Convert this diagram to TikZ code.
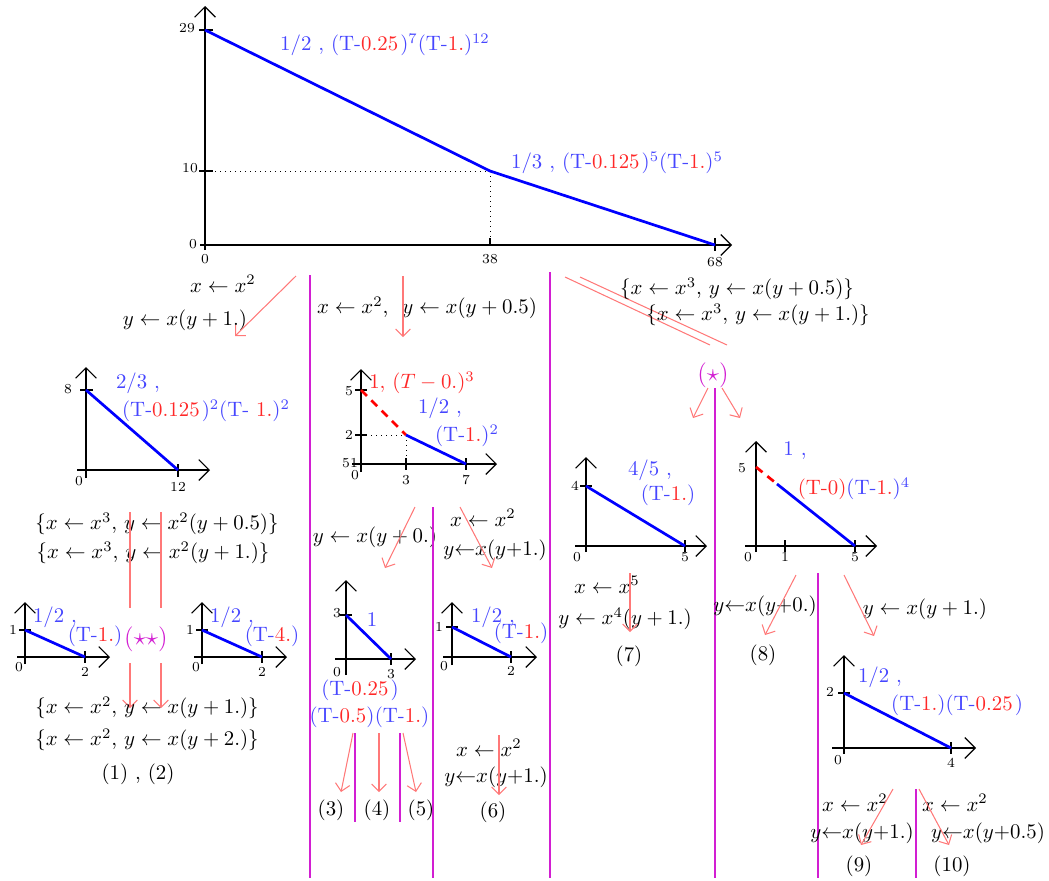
\documentclass[tikz,border=0pt]{standalone}
\usetikzlibrary{arrows.meta}
\definecolor{lblue}{RGB}{70,70,255}
\definecolor{lred}{RGB}{255,40,40}
\definecolor{pinkarr}{RGB}{255,120,120}
\definecolor{mag}{RGB}{210,30,210}
\newcommand\Tm[1]{(T-\textcolor{lred}{#1})}
\begin{document}
\begin{tikzpicture}[x=0.48pt,y=-0.48pt,
 ax/.style={line width=0.55pt,-{Straight Barb[length=5pt,width=10pt]}},
 tk/.style={line width=0.55pt},
 tl/.style={font=\fontsize{6.6}{7}\selectfont, inner sep=0pt},
 bl/.style={blue, line width=1.3pt},
 rd/.style={red, line width=1.3pt, dash pattern=on 4pt off 3pt},
 dt/.style={dotted, line width=0.4pt},
 lab/.style={text=lblue, inner sep=0pt},
 txt/.style={inner sep=0pt},
 mtx/.style={text=mag, inner sep=0pt, font=\large},
 rarr/.style={pinkarr, line width=0.5pt, -{Straight Barb[length=3.5pt,width=7pt]}},
 rln/.style={pinkarr, line width=0.5pt},
 mg/.style={mag, line width=0.9pt},
]
\useasboundingbox (0,0) rectangle (1049,880);

% ---------------- top plot
\draw[ax] (205,250) -- (205,6);
\draw[ax] (200,245) -- (732,245);
\draw[tk] (199,30) -- (213,30);
\draw[tk] (199,171) -- (213,171);
\draw[tk] (490,238) -- (490,245);
\draw[tk] (715,238) -- (715,251);
\node[tl] (t29) at (187,28) {29};
\node[tl] (t10) at (190,168) {10};
\node[tl] (t0y) at (193,244) {0};
\node[tl] (t0x) at (205,259) {0};
\node[tl] (t38) at (490,259) {38};
\node[tl] (t68) at (715,262) {68};
\draw[dt] (205,171) -- (490,171) -- (490,245);
\draw[bl] (205,30) -- (490,171) -- (715,245);
\node[lab] (tl1) at (385,45) {$1/2$ , (T-\textcolor{lred}{0.25\kern1pt})$^7$\Tm{1.}$^{12}$};
\node[lab] (tl2) at (617,163) {$1/3$ , (T-\textcolor{lred}{0.125\kern1pt})$^5$\Tm{1.}$^5$};

% ---------------- first row of branches
\node[txt] (l1a) at (223,284) {$x\leftarrow x^2$};
\node[txt] (l1b) at (185,320) {$y\leftarrow x(y+1.)$};
\coordinate (a1s) at (296,276); \coordinate (a1e) at (235,336);
\draw[rarr] (a1s) -- (a1e);

\coordinate (v1s) at (310,275); \coordinate (v1e) at (310,878);
\draw[mg] (v1s) -- (v1e);
\node[txt] (m1) at (427,308) {$x\leftarrow x^2$,\ \ $y\leftarrow x(y+0.5)$};
\coordinate (a2s) at (403,276); \coordinate (a2e) at (403,337);
\draw[rarr] (a2s) -- (a2e);
\coordinate (v2s) at (550,272); \coordinate (v2e) at (550,878);
\draw[mg] (v2s) -- (v2e);

\coordinate (d1s) at (565,277); \coordinate (d1e) at (710,345);
\coordinate (d2s) at (580,277); \coordinate (d2e) at (727,345);
\draw[rln] (d1s) -- (d1e);
\draw[rln] (d2s) -- (d2e);
\node[txt] (r1a) at (737,289) {$\{x\leftarrow x^3$, $y\leftarrow x(y+0.5)\}$};
\node[txt] (r1b) at (758,315) {$\{x\leftarrow x^3$, $y\leftarrow x(y+1.)\}$};
\node[mtx] (star) at (713,375) {$(\star)$};
\coordinate (s1s) at (708,388); \coordinate (s2s) at (722,388);
\coordinate (s1e) at (693,418); \coordinate (s2e) at (740,418);
\draw[rarr] (s1s) -- (s1e);
\draw[rarr] (s2s) -- (s2e);
\coordinate (v3s) at (715,388); \coordinate (v3e) at (715,878);
\draw[mg] (v3s) -- (v3e);

% ---------------- plot A
\draw[ax] (86,478) -- (86,367);
\draw[ax] (77,470) -- (210,470);
\draw[tk] (80,390) -- (93,390);
\draw[tk] (178,464) -- (178,477);
\node[tl] (a8) at (68,389) {8};
\node[tl] (a0) at (79,481) {0};
\node[tl] (a12) at (178,487) {12};
\draw[bl] (86,390) -- (178,470);
\node[lab] (al1) at (138,383) {$2/3$ ,};
\node[lab] (al2) at (206,411) {(T-\textcolor{lred}{0.125\kern1pt})$^2$(T- \textcolor{lred}{1.})$^2$};

\node[txt] (A1) at (157,524) {$\{x\leftarrow x^3$, $y\leftarrow x^2(y+0.5)\}$};
\node[txt] (A2) at (153,553) {$\{x\leftarrow x^3$, $y\leftarrow x^2(y+1.)\}$};
\coordinate (p1s) at (130,512); \coordinate (p1e) at (130,608);
\coordinate (p2s) at (161,512); \coordinate (p2e) at (161,608);
\draw[rln] (p1s) -- (p1e);
\draw[rln] (p2s) -- (p2e);
\node[mtx] (sstar) at (146,639) {$(\star\star)$};
\coordinate (q1s) at (130,663); \coordinate (q1e) at (130,708);
\coordinate (q2s) at (161,663); \coordinate (q2e) at (161,708);
\draw[rarr] (q1s) -- (q1e);
\draw[rarr] (q2s) -- (q2e);

% plot B1
\draw[ax] (25,664) -- (25,602);
\draw[ax] (17,657) -- (110,657);
\draw[tk] (19,630) -- (31,630);
\draw[tk] (85,651) -- (85,663);
\node[tl] (b11) at (13,630) {1};
\node[tl] (b10) at (19,667) {0};
\node[tl] (b12) at (85,672) {2};
\draw[bl] (25,630) -- (85,657);
\node[lab] (bl1) at (55,617) {$1/2$ ,};
\node[lab] (bl2) at (95,636) {\Tm{1.}};
% plot B2
\draw[ax] (202,664) -- (202,602);
\draw[ax] (194,657) -- (287,657);
\draw[tk] (196,630) -- (208,630);
\draw[tk] (262,651) -- (262,663);
\node[tl] (b21) at (190,630) {1};
\node[tl] (b20) at (196,667) {0};
\node[tl] (b22) at (262,672) {2};
\draw[bl] (202,630) -- (262,657);
\node[lab] (bl3) at (232,617) {$1/2$ ,};
\node[lab] (bl4) at (272,636) {\Tm{4.}};

\node[txt] (B1) at (147,708) {$\{x\leftarrow x^2$, $y\leftarrow x(y+1.)\}$};
\node[txt] (B2) at (147,740) {$\{x\leftarrow x^2$, $y\leftarrow x(y+2.)\}$};
\node[txt] (n12) at (138,774) {(1) , (2)};

% ---------------- plot C
\draw[ax] (361,472) -- (361,369);
\draw[ax] (352,464) -- (497,464);
\draw[tk] (355,390) -- (367,390);
\draw[tk] (355,435) -- (367,435);
\draw[tk] (355,464) -- (367,464);
\draw[tk] (406,458) -- (406,470);
\draw[tk] (466,458) -- (466,470);
\node[tl] (c5) at (349,391) {5};
\node[tl] (c2) at (349,435) {2};
\node[tl] (c51) at (350,463) {51};
\node[tl] (c0) at (355,475) {0};
\node[tl] (c3) at (406,480) {3};
\node[tl] (c7) at (466,480) {7};
\draw[dt] (361,435) -- (406,435) -- (406,464);
\draw[rd] (361,390) -- (406,435);
\draw[bl] (406,435) -- (466,464);
\node[inner sep=0pt, text=lred] (cl1) at (422,383) {$1,\,(T-0.)^3$};
\node[lab] (cl2) at (440,408) {$1/2$ ,};
\node[lab] (cl3) at (467,436) {\Tm{1.}$^2$};

\node[txt] (C1) at (375,537) {$y\leftarrow x(y+0.)$};
\coordinate (c1s) at (415,507); \coordinate (c1e) at (385,568);
\draw[rarr] (c1s) -- (c1e);
\coordinate (v4s) at (433,507); \coordinate (v4e) at (433,878);
\draw[mg] (v4s) -- (v4e);
\node[txt] (C2) at (483,518) {$x\leftarrow x^2$};
\node[txt] (C3) at (495,550) {$y{\leftarrow}x(y{+}1.)$};
\coordinate (c2s) at (460,507); \coordinate (c2e) at (492,568);
\draw[rarr] (c2s) -- (c2e);

% plot D
\draw[ax] (346,675) -- (346,580);
\draw[ax] (335,659) -- (416,659);
\draw[tk] (340,615) -- (352,615);
\draw[tk] (391,653) -- (391,665);
\node[tl] (d3y) at (337,613) {3};
\node[tl] (d0) at (337,672) {0};
\node[tl] (d3x) at (391,674) {3};
\draw[bl] (346,615) -- (391,659);
\node[lab] (dl1) at (372,620) {1};
\node[lab] (dl2) at (360,690) {(T-\textcolor{lred}{0.25\kern1pt})};
\node[lab] (dl3) at (342,717) {\Tm{0.5}};
\node[lab] (dl4) at (402,717) {\Tm{1.}};
\coordinate (e1s) at (353,733); \coordinate (e1e) at (341,792);
\coordinate (e2s) at (379,733); \coordinate (e2e) at (379,792);
\coordinate (e3s) at (403,733); \coordinate (e3e) at (416,792);
\draw[rarr] (e1s) -- (e1e);
\draw[rarr] (e2s) -- (e2e);
\draw[rarr] (e3s) -- (e3e);
\coordinate (v5s) at (355,733); \coordinate (v5e) at (355,822);
\coordinate (v6s) at (400,733); \coordinate (v6e) at (400,822);
\draw[mg] (v5s) -- (v5e);
\draw[mg] (v6s) -- (v6e);
\node[txt] (n3) at (331,810) {(3)};
\node[txt] (n4) at (377,810) {(4)};
\node[txt] (n5) at (421,810) {(5)};

% plot E
\draw[ax] (452,665) -- (452,602);
\draw[ax] (443,657) -- (537,657);
\draw[tk] (446,627) -- (458,627);
\draw[tk] (511,651) -- (511,663);
\node[tl] (e1) at (439,627) {1};
\node[tl] (e0) at (444,666) {0};
\node[tl] (e2) at (511,671) {2};
\draw[bl] (452,627) -- (511,657);
\node[lab] (el1) at (493,617) {$1/2$ ,};
\node[lab] (el2) at (521,633) {\Tm{1.}};
\node[txt] (E1) at (489,748) {$x\leftarrow x^2$};
\node[txt] (E2) at (496,777) {$y{\leftarrow}x(y{+}1.)$};
\coordinate (f1s) at (499,735); \coordinate (f1e) at (499,795);
\draw[rarr] (f1s) -- (f1e);
\node[txt] (n6) at (493,812) {(6)};

% ---------------- plot F
\draw[ax] (586,552) -- (586,457);
\draw[ax] (575,546) -- (707,546);
\draw[tk] (580,486) -- (592,486);
\draw[tk] (685,540) -- (685,552);
\node[tl] (f4) at (575,486) {4};
\node[tl] (f0) at (577,557) {0};
\node[tl] (f5) at (685,557) {5};
\draw[bl] (586,486) -- (685,546);
\node[lab] (fl1) at (650,470) {$4/5$ ,};
\node[lab] (fl2) at (668,495) {\Tm{1.}};
\node[txt] (F1) at (607,585) {$x\leftarrow x^5$};
\node[txt] (F2) at (625,619) {$y\leftarrow x^4(y+1.)$};
\coordinate (g1s) at (630,573); \coordinate (g1e) at (630,632);
\draw[rarr] (g1s) -- (g1e);
\node[txt] (n7) at (629,656) {(7)};

% ---------------- plot G
\draw[ax] (756,552) -- (756,441);
\draw[ax] (745,546) -- (877,546);
\draw[dt] (756,546) -- (855,546);
\draw[tk] (785,540) -- (785,552);
\draw[tk] (855,540) -- (855,552);
\node[tl] (g5y) at (742,468) {5};
\node[tl] (g0) at (748,557) {0};
\node[tl] (g1) at (785,557) {1};
\node[tl] (g5x) at (855,557) {5};
\draw[rd] (756,467) -- (777,484);
\draw[bl] (777,484) -- (855,546);
\node[lab] (gl1) at (795,451) {1 ,};
\node[lab] (gl2) at (854,489) {\textcolor{lred}{(T-0)}\Tm{1.}$^4$};
\coordinate (v7s) at (818,573); \coordinate (v7e) at (818,878);
\draw[mg] (v7s) -- (v7e);
\node[txt] (G1) at (765,606) {$y{\leftarrow}x(y{+}0.)$};
\coordinate (h1s) at (796,575); \coordinate (h1e) at (765,635);
\draw[rarr] (h1s) -- (h1e);
\node[txt] (n8) at (763,655) {(8)};
\node[txt] (G2) at (925,609) {$y\leftarrow x(y+1.)$};
\coordinate (h2s) at (844,575); \coordinate (h2e) at (874,636);
\draw[rarr] (h2s) -- (h2e);

% plot H
\draw[ax] (844,754) -- (844,655);
\draw[ax] (832,748) -- (976,748);
\draw[tk] (838,693) -- (850,693);
\draw[tk] (951,742) -- (951,754);
\node[tl] (h2) at (830,692) {2};
\node[tl] (h0) at (838,760) {0};
\node[tl] (h4) at (951,763) {4};
\draw[bl] (844,693) -- (951,748);
\node[lab] (hl1) at (880,677) {$1/2$ ,};
\node[lab] (hl2) at (957,705) {\Tm{1.}(T-\textcolor{lred}{0.25\kern1pt})};
\coordinate (v8s) at (916,789); \coordinate (v8e) at (916,878);
\draw[mg] (v8s) -- (v8e);
\node[txt] (H1) at (855,803) {$x\leftarrow x^2$};
\node[txt] (H2) at (862,833) {$y{\leftarrow}x(y{+}1.)$};
\node[txt] (n9) at (859,866) {(9)};
\coordinate (i1s) at (893,789); \coordinate (i1e) at (861,845);
\draw[rarr] (i1s) -- (i1e);
\node[txt] (H3) at (955,803) {$x\leftarrow x^2$};
\node[txt] (H4) at (988,833) {$y{\leftarrow}x(y{+}0.5)$};
\node[txt] (n10) at (952,866) {(10)};
\coordinate (i2s) at (919,789); \coordinate (i2e) at (949,845);
\draw[rarr] (i2s) -- (i2e);
\end{tikzpicture}
\end{document}
